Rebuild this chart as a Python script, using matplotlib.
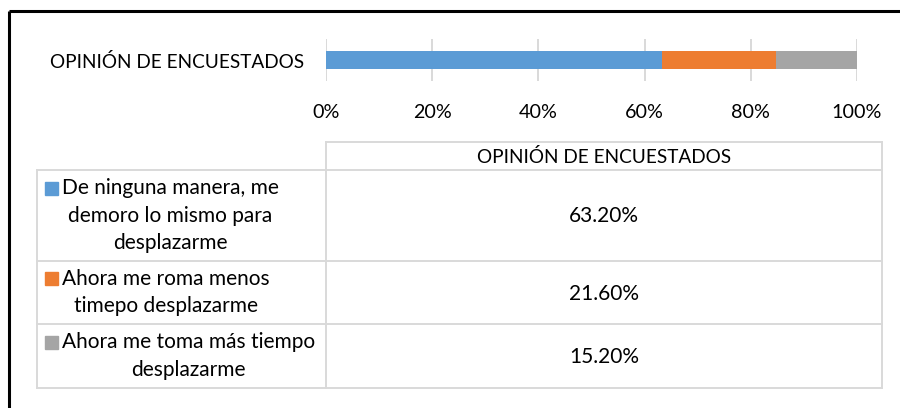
import textwrap
import matplotlib.pyplot as plt
from matplotlib import rcParams

rcParams['font.family'] = ['Lato', 'DejaVu Sans']
rcParams['font.size'] = 13

category = "OPINIÓN DE ENCUESTADOS"
labels = ["De ninguna manera, me demoro lo mismo para desplazarme",
          "Ahora me roma menos timepo desplazarme",
          "Ahora me toma más tiempo desplazarme"]
values = [63.2, 21.6, 15.2]
colors = ["#5B9BD5", "#ED7D31", "#A5A5A5"]
xticks = [0, 20, 40, 60, 80, 100]

W, H = 900, 408
fig = plt.figure(figsize=(9, 4.08), dpi=100)

# overlay axes in pixel coordinates for the frame and the data table
ov = fig.add_axes([0, 0, 1, 1])
ov.set_xlim(0, W)
ov.set_ylim(H, 0)
ov.axis('off')

# bar axes
x0, x1, y0, y1 = 326, 857, 39, 81
ax = fig.add_axes([x0 / W, 1 - y1 / H, (x1 - x0) / W, (y1 - y0) / H])
left = 0
for v, c in zip(values, colors):
    ax.barh(0, v, left=left, height=0.405, color=c, zorder=3)
    left += v
ax.set_xlim(0, 100)
ax.set_ylim(-0.5, 0.5)
ax.set_xticks(xticks)
ax.set_xticklabels([f"{t}%" for t in xticks], fontsize=14.2)
ax.set_yticks([0])
ax.set_yticklabels([category], fontsize=13.7)
ax.tick_params(axis='both', length=0, colors='black')
ax.tick_params(axis='x', pad=16.5)
ax.tick_params(axis='y', pad=16)
ax.grid(axis='x', color='#D9D9D9', linewidth=1.4, zorder=0)
for s in ax.spines.values():
    s.set_visible(False)

# outer frame (top and left visible)
ov.plot([9, W], [11, 11], color='black', lw=2.2, solid_capstyle='butt')
ov.plot([9, 9], [11, H], color='black', lw=2.2, solid_capstyle='butt')

# data table
gc = '#D9D9D9'
tl, tm, tr = 37, 326, 882
rows = [142, 170, 261, 324, 388]
ov.plot([tm, tr], [rows[0], rows[0]], color=gc, lw=1.4)
for y in rows[1:]:
    ov.plot([tl, tr], [y, y], color=gc, lw=1.4)
ov.plot([tl, tl], [rows[1], rows[-1]], color=gc, lw=1.4)
ov.plot([tm, tm], [rows[0], rows[-1]], color=gc, lw=1.4)
ov.plot([tr, tr], [rows[0], rows[-1]], color=gc, lw=1.4)

xc = (tm + tr) / 2
ov.text(xc, (rows[0] + rows[1]) / 2 + 1, category, ha='center', va='center', fontsize=13.7)

renderer = fig.canvas.get_renderer()
line_h = 27.3
for i, (lab, v, c) in enumerate(zip(labels, values, colors)):
    yc = (rows[i + 1] + rows[i + 2]) / 2
    lines = textwrap.wrap(lab, 24)
    yfirst = yc - (len(lines) - 1) / 2 * line_h
    texts = [ov.text(62, yfirst + k * line_h, ln, ha='left', va='center', fontsize=15)
             for k, ln in enumerate(lines)]
    widths = [t.get_window_extent(renderer).width for t in texts]
    bw = max(widths)
    for t in texts:
        t.set_x(62 + bw / 2)
        t.set_ha('center')
    ov.add_patch(plt.Rectangle((45, yfirst - 6.5), 13, 13, color=c))
    ov.text(xc, yc + 1, f"{v:.2f}%", ha='center', va='center', fontsize=15)

fig.savefig("out.png", dpi=100)
